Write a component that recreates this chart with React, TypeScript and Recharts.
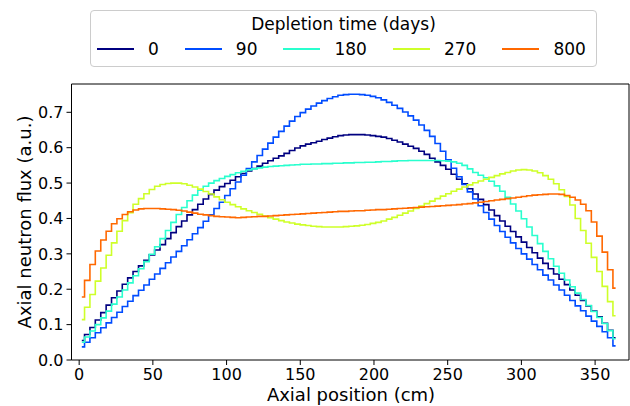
import { LineChart, Line, XAxis, YAxis, Legend, ReferenceLine, Label } from 'recharts'

const FONT = '"DejaVu Sans", sans-serif'

// axial mesh mid-points (cm)
const axialPos = [
  1.8, 5.5, 9.1, 12.8, 16.5, 20.1, 23.8, 27.4, 31.1, 34.7,
  38.4, 42.1, 45.7, 49.4, 53.0, 56.7, 60.4, 64.0, 67.7, 71.3,
  75.0, 78.6, 82.3, 86.0, 89.6, 93.3, 96.9, 100.6, 104.2, 107.9,
  111.6, 115.2, 118.9, 122.5, 126.2, 129.8, 133.5, 137.2, 140.8, 144.5,
  148.1, 151.8, 155.4, 159.1, 162.8, 166.4, 170.1, 173.7, 177.4, 181.1,
  184.7, 188.4, 192.0, 195.7, 199.3, 203.0, 206.7, 210.3, 214.0, 217.6,
  221.3, 224.9, 228.6, 232.3, 235.9, 239.6, 243.2, 246.9, 250.5, 254.2,
  257.9, 261.5, 265.2, 268.8, 272.5, 276.1, 279.8, 283.5, 287.1, 290.8,
  294.4, 298.1, 301.8, 305.4, 309.1, 312.7, 316.4, 320.0, 323.7, 327.4,
  331.0, 334.7, 338.3, 342.0, 345.6, 349.3, 353.0, 356.6, 360.3, 363.9,
]

const flux0 = [
  0.055, 0.072, 0.092, 0.113, 0.134, 0.155, 0.176, 0.195, 0.214, 0.232,
  0.250, 0.266, 0.282, 0.297, 0.311, 0.326, 0.343, 0.360, 0.377, 0.393,
  0.410, 0.425, 0.440, 0.455, 0.468, 0.480, 0.490, 0.499, 0.508, 0.518,
  0.527, 0.534, 0.541, 0.548, 0.556, 0.563, 0.570, 0.577, 0.584, 0.592,
  0.599, 0.605, 0.610, 0.614, 0.618, 0.623, 0.627, 0.631, 0.634, 0.636,
  0.637, 0.637, 0.637, 0.636, 0.634, 0.632, 0.630, 0.626, 0.621, 0.616,
  0.610, 0.604, 0.598, 0.590, 0.581, 0.570, 0.560, 0.550, 0.539, 0.525,
  0.511, 0.498, 0.484, 0.469, 0.454, 0.439, 0.424, 0.408, 0.393, 0.378,
  0.363, 0.348, 0.333, 0.318, 0.303, 0.288, 0.273, 0.258, 0.243, 0.228,
  0.213, 0.198, 0.183, 0.168, 0.153, 0.138, 0.122, 0.104, 0.084, 0.063,
]

const flux90 = [
  0.037, 0.050, 0.063, 0.077, 0.091, 0.105, 0.120, 0.135, 0.151, 0.166,
  0.182, 0.197, 0.212, 0.228, 0.243, 0.259, 0.275, 0.291, 0.307, 0.323,
  0.340, 0.357, 0.374, 0.392, 0.410, 0.428, 0.446, 0.465, 0.484, 0.503,
  0.522, 0.541, 0.560, 0.578, 0.596, 0.613, 0.630, 0.646, 0.661, 0.675,
  0.688, 0.699, 0.709, 0.718, 0.726, 0.733, 0.739, 0.744, 0.748, 0.750,
  0.751, 0.751, 0.750, 0.748, 0.745, 0.741, 0.735, 0.728, 0.720, 0.711,
  0.701, 0.690, 0.678, 0.664, 0.649, 0.632, 0.612, 0.590, 0.566, 0.542,
  0.518, 0.496, 0.475, 0.455, 0.436, 0.417, 0.398, 0.380, 0.363, 0.347,
  0.331, 0.315, 0.300, 0.285, 0.270, 0.255, 0.240, 0.226, 0.212, 0.198,
  0.183, 0.168, 0.153, 0.139, 0.124, 0.110, 0.095, 0.080, 0.063, 0.040,
]

const flux180 = [
  0.050, 0.065, 0.082, 0.100, 0.119, 0.138, 0.158, 0.178, 0.198, 0.218,
  0.238, 0.258, 0.278, 0.299, 0.320, 0.343, 0.366, 0.389, 0.411, 0.431,
  0.450, 0.466, 0.480, 0.491, 0.500, 0.507, 0.513, 0.519, 0.524, 0.529,
  0.533, 0.537, 0.540, 0.543, 0.545, 0.547, 0.548, 0.549, 0.550, 0.551,
  0.552, 0.553, 0.553, 0.554, 0.554, 0.555, 0.555, 0.556, 0.556, 0.557,
  0.557, 0.558, 0.558, 0.559, 0.559, 0.560, 0.561, 0.561, 0.562, 0.563,
  0.563, 0.564, 0.564, 0.564, 0.564, 0.564, 0.564, 0.563, 0.562, 0.560,
  0.556, 0.550, 0.540, 0.530, 0.522, 0.515, 0.505, 0.492, 0.477, 0.460,
  0.441, 0.421, 0.399, 0.376, 0.352, 0.329, 0.307, 0.286, 0.265, 0.245,
  0.226, 0.207, 0.189, 0.171, 0.154, 0.137, 0.120, 0.103, 0.083, 0.060,
]

const flux270 = [
  0.114, 0.149, 0.185, 0.223, 0.260, 0.296, 0.331, 0.364, 0.394, 0.416,
  0.440, 0.456, 0.470, 0.482, 0.491, 0.496, 0.499, 0.500, 0.500, 0.498,
  0.494, 0.489, 0.483, 0.476, 0.469, 0.461, 0.453, 0.446, 0.439, 0.433,
  0.427, 0.422, 0.417, 0.412, 0.407, 0.402, 0.398, 0.394, 0.390, 0.387,
  0.384, 0.382, 0.380, 0.378, 0.377, 0.376, 0.376, 0.376, 0.376, 0.377,
  0.378, 0.379, 0.381, 0.383, 0.386, 0.389, 0.393, 0.398, 0.403, 0.409,
  0.415, 0.421, 0.428, 0.435, 0.442, 0.449, 0.456, 0.463, 0.470, 0.477,
  0.483, 0.489, 0.495, 0.501, 0.506, 0.511, 0.516, 0.521, 0.526, 0.530,
  0.534, 0.537, 0.538, 0.537, 0.534, 0.529, 0.521, 0.511, 0.498, 0.481,
  0.462, 0.438, 0.400, 0.366, 0.330, 0.290, 0.250, 0.208, 0.165, 0.125,
]

const flux800 = [
  0.178, 0.225, 0.270, 0.308, 0.339, 0.364, 0.385, 0.399, 0.411, 0.419,
  0.424, 0.427, 0.428, 0.428, 0.428, 0.427, 0.426, 0.425, 0.423, 0.421,
  0.418, 0.415, 0.412, 0.410, 0.408, 0.406, 0.405, 0.404, 0.403, 0.402,
  0.403, 0.404, 0.405, 0.406, 0.406, 0.407, 0.408, 0.409, 0.410, 0.411,
  0.412, 0.413, 0.414, 0.415, 0.416, 0.417, 0.418, 0.419, 0.420, 0.420,
  0.421, 0.422, 0.422, 0.423, 0.424, 0.425, 0.425, 0.426, 0.427, 0.428,
  0.429, 0.430, 0.431, 0.432, 0.433, 0.434, 0.435, 0.436, 0.437, 0.438,
  0.439, 0.441, 0.442, 0.444, 0.446, 0.448, 0.450, 0.452, 0.454, 0.456,
  0.458, 0.460, 0.462, 0.464, 0.466, 0.467, 0.468, 0.469, 0.469, 0.468,
  0.465, 0.460, 0.452, 0.440, 0.422, 0.390, 0.350, 0.305, 0.255, 0.203,
]

const series = [
  { key: 'd0', name: '0', color: '#000080', values: flux0 },
  { key: 'd90', name: '90', color: '#004cff', values: flux90 },
  { key: 'd180', name: '180', color: '#29ffce', values: flux180 },
  { key: 'd270', name: '270', color: '#ceff29', values: flux270 },
  { key: 'd800', name: '800', color: '#ff6800', values: flux800 },
]

const xTicks = [0, 50, 100, 150, 200, 250, 300, 350]
const yTicks = [0, 0.1, 0.2, 0.3, 0.4, 0.5, 0.6, 0.7]

const data = axialPos.map((x, i) => {
  const row: Record<string, number> = { x }
  series.forEach(s => { row[s.key] = s.values[i] })
  return row
})

const tickStyle = { fill: '#000', fontSize: 16, fontFamily: FONT }

function FluxLegend() {
  return (
    <div style={{
      boxSizing: 'border-box', width: 507, height: 57, border: '1px solid #cccccc',
      borderRadius: 4, background: '#fff', fontFamily: FONT, fontSize: 17, color: '#000',
    }}>
        <div style={{ textAlign: 'center', lineHeight: '20px', paddingTop: 3 }}>Depletion time (days)</div>
        <div style={{ display: 'flex', alignItems: 'center', paddingLeft: 6, marginTop: 5, lineHeight: '20px' }}>
            {series.map((s, i) => (
                <div key={s.key} style={{ display: 'flex', alignItems: 'center', marginRight: i < series.length - 1 ? 26 : 0 }}>
                    <span style={{ display: 'inline-block', width: 37, borderTop: `2px solid ${s.color}`, marginRight: 14 }} />
                    <span>{s.name}</span>
                </div>
            ))}
        </div>
    </div>
  )
}

export default function App() {
  return (
    <div style={{ position: 'absolute', left: 0, top: 0, background: '#fff' }}>
      <LineChart width={630} height={406} data={data} margin={{ top: 84, right: 1, bottom: 0, left: 0 }}>
        <XAxis dataKey="x" type="number" domain={[-5.2, 373]} ticks={xTicks} allowDataOverflow
          height={46} stroke="#000" tickSize={5} tickMargin={4} tick={tickStyle}>
          <Label content={() => (
            <text x={351} y={401} textAnchor="middle" fontSize={18} fontFamily={FONT} fill="#000">
              Axial position (cm)
            </text>
          )} />
        </XAxis>
        <YAxis type="number" domain={[0, 0.78]} ticks={yTicks} allowDataOverflow width={71.5}
          stroke="#000" tickSize={5} tickMargin={3} tick={tickStyle}
          tickFormatter={(v: number) => v.toFixed(1)}>
          <Label content={() => (
            <text transform="rotate(-90)" x={-222} y={31} textAnchor="middle" fontSize={18} fontFamily={FONT} fill="#000">
              Axial neutron flux (a.u.)
            </text>
          )} />
        </YAxis>
        <ReferenceLine y={0.78} stroke="#000" />
        <ReferenceLine x={373} stroke="#000" />
        {series.map(s => (
          <Line key={s.key} dataKey={s.key} name={s.name} type="step" stroke={s.color}
            strokeWidth={1.6} dot={false} activeDot={false} isAnimationActive={false} />
        ))}
        <Legend verticalAlign="middle" align="center" layout="horizontal"
          wrapperStyle={{ left: 90, top: 10, width: 507, height: 57 }}
          content={() => <FluxLegend />} />
      </LineChart>
    </div>
  )
}
